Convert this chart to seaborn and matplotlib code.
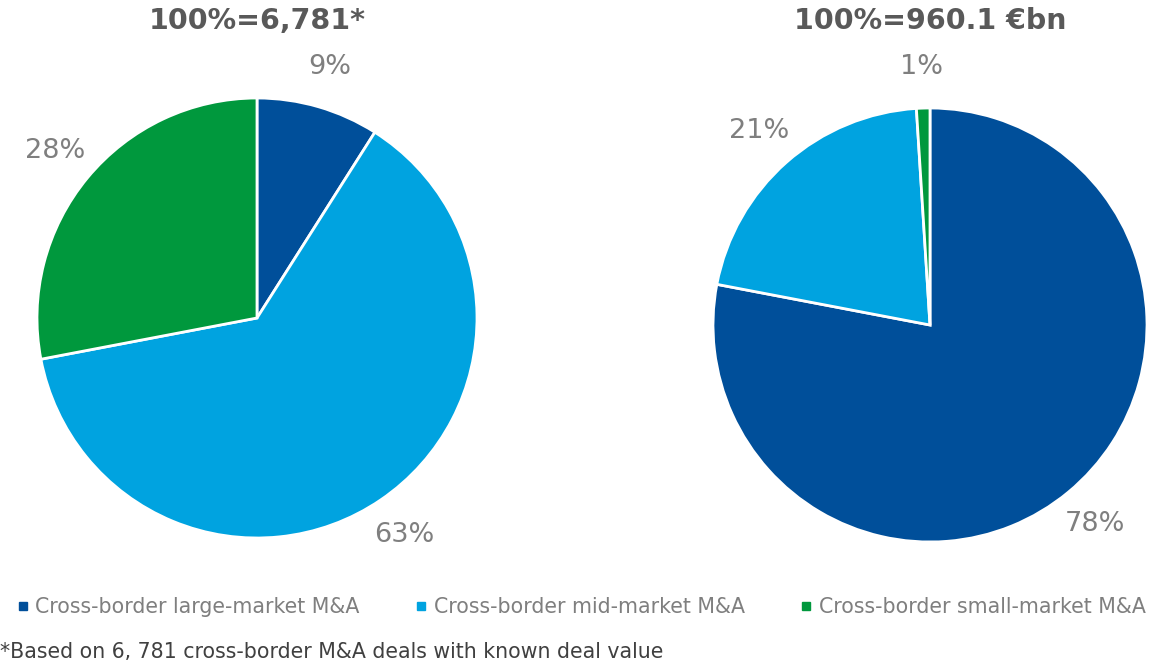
import matplotlib
matplotlib.use("Agg")
import matplotlib.pyplot as plt
import seaborn as sns
from matplotlib.lines import Line2D

# data
segments = ["Cross-border large-market M&A", "Cross-border mid-market M&A", "Cross-border small-market M&A"]
deal_count_share = [9, 63, 28]
deal_value_share = [78, 21, 1]
titles = ["100%=6,781*", "100%=960.1 \u20acbn"]
footnote = "*Based on 6, 781 cross-border M&A deals with known deal value"

sns.set_theme(style="white")
plt.rcParams["font.family"] = ["DejaVu Sans"]
colors = ["#004f9a", "#00a3e0", "#00983d"]
gray = "#7f7f7f"

W, H = 1149, 664
fig = plt.figure(figsize=(W / 100, H / 100), dpi=100)


def px_axes(cx, cy, r):
    return fig.add_axes([(cx - r) / W, (H - cy - r) / H, 2 * r / W, 2 * r / H])


for (cx, cy, r), vals, title in [((257, 318, 220), deal_count_share, titles[0]),
                                  ((930, 325, 217), deal_value_share, titles[1])]:
    ax = px_axes(cx, cy, r)
    wedges, texts = ax.pie(vals, colors=colors, startangle=90, counterclock=False,
                           labels=[f"{v}%" for v in vals], labeldistance=1.19,
                           wedgeprops=dict(edgecolor="white", linewidth=2))
    for t in texts:
        t.set_color(gray)
        t.set_fontsize(19.5)
        t.set_horizontalalignment("center")
        t.set_verticalalignment("center")
    ax.set_xlim(-1, 1)
    ax.set_ylim(-1, 1)
    ax.set_aspect("equal")
    fig.text(cx / W, 1 - 21 / H, title, ha="center", va="center",
             fontsize=20.5, fontweight="bold", color="#595959")

handles = [Line2D([], [], marker="s", linestyle="", markersize=6, color=c) for c in colors]
fig.legend(handles, segments, loc="center", bbox_to_anchor=(0.505, 1 - 607 / H), ncol=3,
           frameon=False, fontsize=14.8, labelcolor=gray, handletextpad=0.2,
           columnspacing=2.6, handlelength=0.8)
fig.text(0.0, 1 - 652 / H, footnote, ha="left", va="center", fontsize=14.8, color="#404040")

fig.savefig("out.png", dpi=100)
